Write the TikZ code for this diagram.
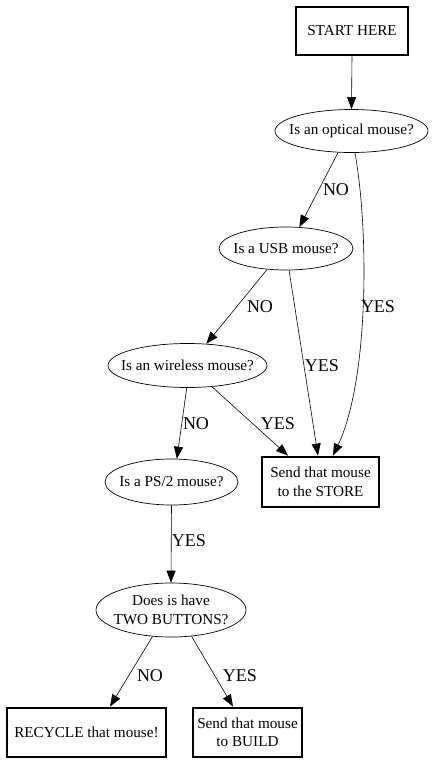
\documentclass[tikz,border=0pt]{standalone}
\usepackage{fontspec}
\setmainfont{Liberation Serif}
\usetikzlibrary{arrows.meta,shapes.geometric}
\begin{document}
\begin{tikzpicture}[x=1pt,y=-1pt,
  box/.style={draw,line width=2.8pt,rectangle,inner sep=0pt,align=center,font=\fontsize{15.2}{18.5}\selectfont},
  ell/.style={draw,line width=0.7pt,ellipse,inner sep=0pt},
  txt/.style={inner sep=0pt,align=center,font=\fontsize{15.2}{18.5}\selectfont},
  edge/.style={draw,line width=0.6pt,-{Triangle[length=12pt,width=9pt]}},
  lbl/.style={inner sep=0pt,font=\fontsize{18}{20}\selectfont}]
\useasboundingbox (0,0) rectangle (436,764);
\fill[white] (0,0) rectangle (436,764);
\node[box,minimum width=112pt,minimum height=48pt] (start) at (352,31) {START HERE};
\node[ell,minimum width=153pt,minimum height=43pt] (optical) at (351.5,131) {};
\node[ell,minimum width=134pt,minimum height=43pt] (usb) at (286,248.5) {};
\node[ell,minimum width=159pt,minimum height=44pt] (wireless) at (187.5,365.5) {};
\node[ell,minimum width=133pt,minimum height=46pt] (ps2) at (171.5,482) {};
\node[box,minimum width=117pt,minimum height=50pt] (store) at (320.5,482) {Send that mouse\\to the STORE};
\node[ell,minimum width=150pt,minimum height=54pt] (two) at (171,610) {};
\node[box,minimum width=159pt,minimum height=49pt] (recycle) at (86.5,732.5) {RECYCLE that mouse!};
\node[box,minimum width=109pt,minimum height=49pt] (build) at (247.5,732.5) {Send that mouse\\to BUILD};

\node[txt] (toptical) at (optical) {Is an optical mouse?};
\node[txt] (tusb) at (usb) {Is a USB mouse?};
\node[txt] (twireless) at (wireless) {Is an wireless mouse?};
\node[txt] (tps2) at (ps2) {Is a PS/2 mouse?};
\node[txt] (ttwo) at (two) {Does is have\\TWO BUTTONS?};

\draw[edge] (start.south) -- (optical.north);
\draw[edge] (optical.238) -- (usb.58);
\draw[edge] (optical.279) .. controls (369,230) and (369,380) .. ([xshift=12.5pt]store.north);
\draw[edge] (usb.228) -- (wireless.49);
\draw[edge] (usb.278) -- ([xshift=-2.5pt]store.north);
\draw[edge] (wireless.268) -- (ps2.77);
\draw[edge] (wireless.319) -- ([xshift=-32.5pt]store.north);
\draw[edge] (ps2.south) -- (two.north);
\draw[edge] (two.235) -- ([xshift=23.5pt]recycle.north);
\draw[edge] (two.308) -- ([xshift=-14.5pt]build.north);

\node[lbl] (l1) at (336,190) {NO};
\node[lbl] (l2) at (378,307) {YES};
\node[lbl] (l3) at (260,307) {NO};
\node[lbl] (l4) at (322,366) {YES};
\node[lbl] (l5) at (196,424) {NO};
\node[lbl] (l6) at (278,424) {YES};
\node[lbl] (l7) at (189,541) {YES};
\node[lbl] (l8) at (150,676) {NO};
\node[lbl] (l9) at (240,676) {YES};
\end{tikzpicture}
\end{document}
